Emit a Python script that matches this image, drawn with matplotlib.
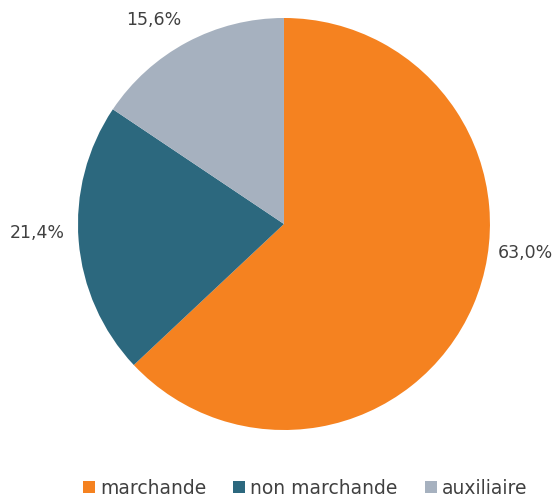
import matplotlib
matplotlib.use("Agg")
import matplotlib.pyplot as plt

# données
categories = ["marchande", "non marchande", "auxiliaire"]
parts = [63.0, 21.4, 15.6]
etiquettes = ["63,0%", "21,4%", "15,6%"]
couleurs = ["#F58220", "#2C687E", "#A6B1BF"]

# position des étiquettes (unités du rayon)
pos_etiq = [(1.17, -0.14), (-1.20, -0.045), (-0.63, 0.99)]

plt.rcParams['font.family'] = ['DejaVu Sans']
fig = plt.figure(figsize=(5.55, 4.97), dpi=100)
ax = fig.add_axes([0.1405, 0.1348, 0.7423, 0.829])

wedges, _ = ax.pie(parts, colors=couleurs, startangle=90, counterclock=False,
                   radius=1.0, wedgeprops=dict(linewidth=0))
ax.set_xlim(-1, 1)
ax.set_ylim(-1, 1)
ax.set_aspect('auto')
ax.axis('off')

for txt, (x, y) in zip(etiquettes, pos_etiq):
    ax.text(x, y, txt, ha='center', va='center', fontsize=12.5, color='#404040',
            clip_on=False)

fig.legend(wedges, categories, loc='center', bbox_to_anchor=(0.55, 0.018),
           ncol=3, frameon=False, fontsize=13.5, handlelength=0.64,
           handleheight=0.64, handletextpad=0.27, columnspacing=1.45,
           labelcolor='#404040')

fig.savefig("out.png", dpi=100)
